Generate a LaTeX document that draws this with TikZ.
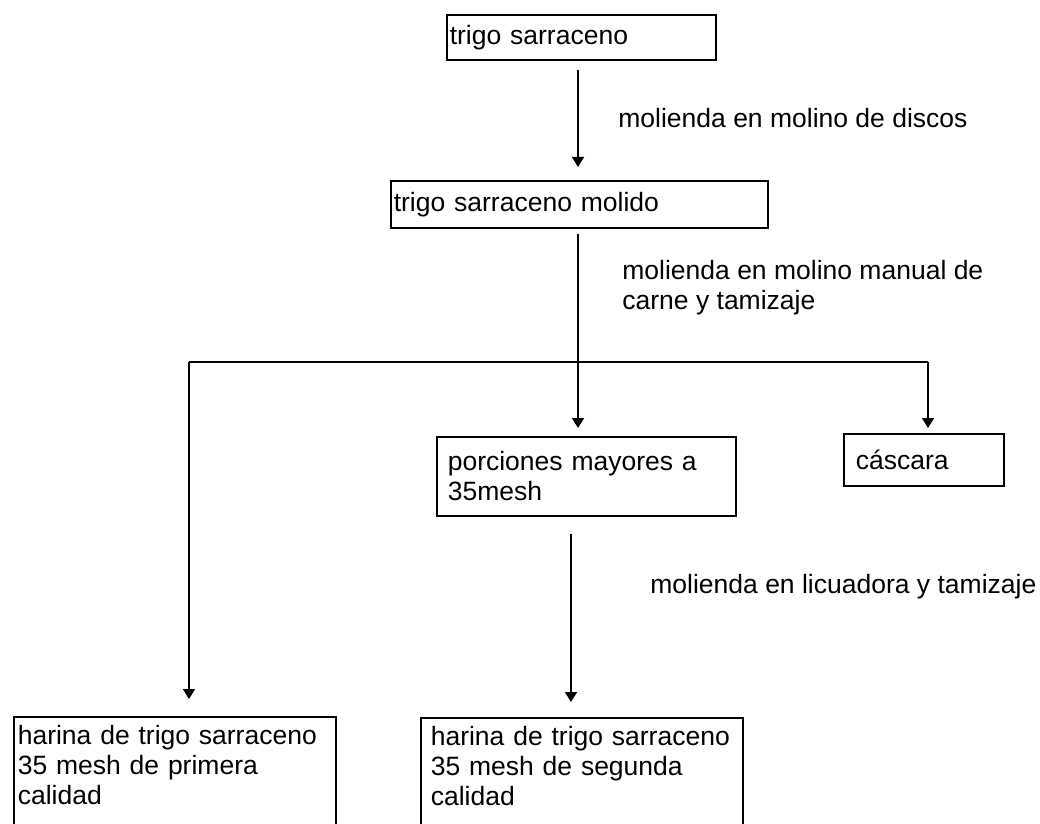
\documentclass[tikz,border=0pt]{standalone}
\usepackage{fontspec}
\setmainfont{Liberation Sans}
\usetikzlibrary{arrows.meta, positioning, calc}

\tikzset{
  caja/.style={draw, line width=0.8pt, anchor=north west, align=left, inner ysep=0pt, inner xsep=1.5pt},
  etiqueta/.style={anchor=west, align=left, inner sep=0pt},
  flecha/.style={-{Triangle[width=6pt,length=5pt]}, line width=0.8pt},
  linea/.style={line width=0.8pt}
}

\begin{document}
\begin{tikzpicture}[x=0.5pt, y=-0.5pt, font=\fontsize{13.25pt}{15pt}\selectfont]
  \useasboundingbox (0,0) rectangle (1040,824);

  % cajas
  \node[caja, text width=131.5pt, minimum height=22.5pt] (trigo) at (446,14) {trigo sarraceno};
  \node[caja, text width=185.5pt, minimum height=23.5pt] (molido) at (390,180) {trigo sarraceno molido};
  \node[caja, inner xsep=5.5pt, text width=138.5pt, minimum height=39.5pt] (porciones) at (436,436) {porciones mayores a\\35mesh};
  \node[caja, inner xsep=6pt, text width=68pt, minimum height=26pt] (cascara) at (843,433) {cáscara};
  \node[caja, inner xsep=2pt, inner ysep=4pt, text width=157pt, text depth=52pt] (primera) at (13,716) {harina de trigo sarraceno\\35 mesh de primera\\calidad};
  \node[caja, inner xsep=5pt, inner ysep=4pt, text width=151pt, text depth=52pt] (segunda) at (420,717) {harina de trigo sarraceno\\35 mesh de segunda\\calidad};

  % operaciones
  \node[etiqueta] (paso1) at (618,118) {molienda en molino de discos};
  \node[etiqueta] (paso2) at (622,288) {molienda en molino manual de\\carne y tamizaje};
  \node[etiqueta] (paso3) at (650,587) {molienda en licuadora y tamizaje};

  % conectores
  \coordinate (cruce) at (578,362);
  \coordinate (izq) at (189,362);
  \coordinate (der) at (928,362);
  \coordinate (eje) at (571,620);

  \draw[flecha, shorten <=4.5pt, shorten >=6.5pt] (trigo.south -| cruce) -- (molido.north -| cruce);
  \draw[linea, shorten <=2.5pt] (molido.south -| cruce) -- (cruce);
  \draw[linea] (izq) -- (der);
  \draw[flecha, shorten >=4pt] (cruce) -- (porciones.north -| cruce);
  \draw[flecha, shorten >=2.5pt] (der) -- (der |- cascara.north);
  \draw[flecha, shorten >=8.5pt] (izq) -- (izq |- primera.north);
  \draw[flecha, shorten <=8.5pt, shorten >=7.5pt] (porciones.south -| eje) -- (segunda.north -| eje);
\end{tikzpicture}
\end{document}
